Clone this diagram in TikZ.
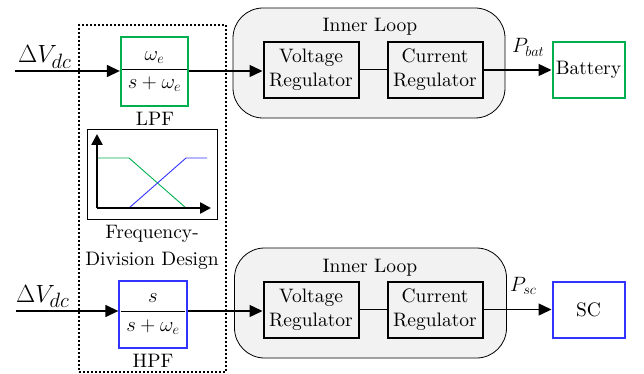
\documentclass[tikz,border=0pt]{standalone}
\usepackage{fontspec}
\setmainfont{lmroman10-regular.otf}[ItalicFont=lmroman10-italic.otf, BoldFont=lmroman10-bold.otf]
\usetikzlibrary{arrows.meta}
\definecolor{lgreen}{RGB}{0,176,80}
\definecolor{lblue}{RGB}{51,51,255}
\definecolor{loopgray}{RGB}{242,242,242}
\newcommand\fsz[1]{\fontsize{#1}{#1}\selectfont}
\begin{document}
\begin{tikzpicture}[x=1pt,y=-1pt,
  blk/.style={draw, line width=2pt, minimum width=95pt, minimum height=56pt, inner sep=0pt, align=center, font=\fontsize{19.5}{24}\selectfont},
  outbox/.style={draw, line width=2pt, minimum width=72pt, minimum height=56pt, inner sep=0pt, font=\fsz{19.5}},
  filt/.style={draw, line width=2pt, inner sep=0pt, font=\fsz{20.74}},
  loopbox/.style={draw, line width=0.8pt, fill=loopgray, rounded corners=30pt, minimum width=272pt, minimum height=110pt, inner sep=0pt},
  arr/.style={line width=1.4pt, -{Triangle[length=13pt,width=12pt]}},
  axisarr/.style={line width=2.5pt, -{Triangle[length=11pt,width=11pt]}},
  lbl/.style={inner sep=0pt, font=\fsz{19.5}},
]
\useasboundingbox (0,0) rectangle (644,374);
% dotted frequency division frame
\node[draw, line width=1.5pt, dash pattern=on 2pt off 2pt, minimum width=147pt, minimum height=347pt, inner sep=0pt] (fd) at (152.5,198.5) {};
% inner loops
\node[loopbox] (L1) at (369,63) {};
\node[loopbox] (L2) at (370.5,303) {};
\node[lbl, anchor=base] (L1t) at (370,32) {Inner Loop};
\node[lbl, anchor=base] (L2t) at (370,272) {Inner Loop};
% top chain
\node[filt, draw=lgreen, minimum width=65pt, minimum height=69pt] (lpf) at (154.5,71.5)
  {$\displaystyle\frac{\;\omega_e\;}{\;s+\omega_e\;}$};
\node[lbl, anchor=base] (lpft) at (155,126) {LPF};
\node[blk] (vr1) at (311,70) {Voltage\\Regulator};
\node[blk] (cr1) at (435,70) {Current\\Regulator};
\node[outbox, draw=lgreen] (bat) at (588.5,70) {Battery};
\coordinate (in1) at (15,71);
\node[inner sep=0pt, anchor=base west] (dv1) at (18,63) {\fsz{24.88}$\Delta V_{dc}$};
\node[inner sep=0pt, anchor=base west] (pb) at (512,53) {\fsz{20.74}$P_{bat}$};
\draw[arr] (in1) -- (in1 -| lpf.west);
\draw[arr] (in1 -| lpf.east) -- (in1 -| vr1.west);
\draw[line width=1pt] (vr1.east) -- (cr1.west);
\draw[arr] (cr1.east) -- (bat.west);
% plot
\node[draw, line width=1pt, minimum width=130pt, minimum height=89pt, inner sep=0pt] (fp) at (152,174.5) {};
\coordinate (o) at (97,208);
\draw[lgreen, line width=0.9pt] (97,158) -- (129,158) -- (186,208);
\draw[lblue, line width=0.9pt] (129,208) -- (186,158) -- (207,158);
\draw[axisarr] (o) -- (97,134);
\draw[axisarr] (o) -- (211,208);
\node[lbl, anchor=base, align=center, font=\fontsize{19.5}{27}\selectfont] (fdt) at (152,265) {Frequency-\\Division Design};
% bottom chain
\node[filt, draw=lblue, minimum width=63pt, minimum height=67pt] (hpf) at (153,314)
  {$\displaystyle\frac{s}{\;s+\omega_e\;}$};
\node[lbl, anchor=base] (hpft) at (153,367) {HPF};
\node[blk] (vr2) at (311,309.5) {Voltage\\Regulator};
\node[blk] (cr2) at (435,309.5) {Current\\Regulator};
\node[outbox, draw=lblue] (sc) at (588.5,309.5) {SC};
\coordinate (in2) at (16,311);
\node[inner sep=0pt, anchor=base west] (dv2) at (16,302) {\fsz{24.88}$\Delta V_{dc}$};
\node[inner sep=0pt, anchor=base west] (ps) at (510,291) {\fsz{20.74}$P_{sc}$};
\draw[arr] (in2) -- (in2 -| hpf.west);
\draw[arr] (in2 -| hpf.east) -- (in2 -| vr2.west);
\draw[line width=1pt] (vr2.east) -- (cr2.west);
\draw[arr] (cr2.east) -- (sc.west);
\end{tikzpicture}
\end{document}
